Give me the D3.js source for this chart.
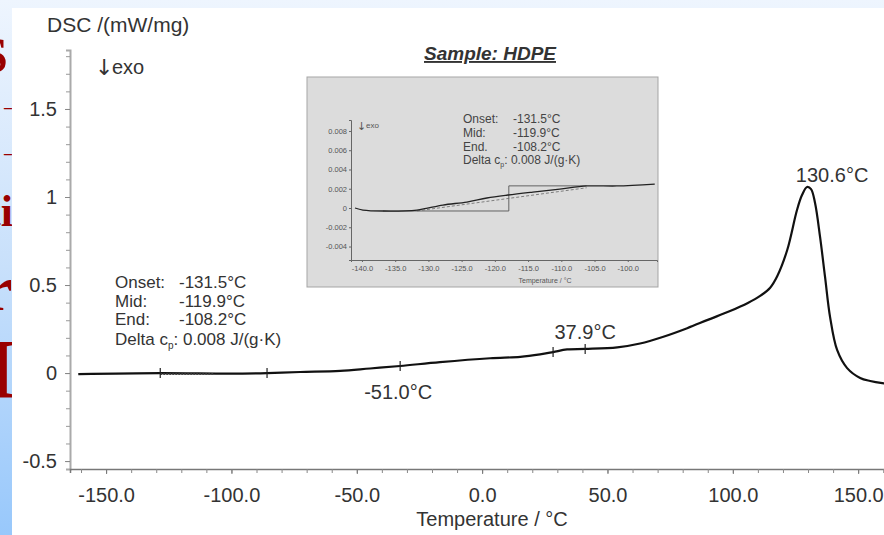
<!DOCTYPE html>
<html>
<head>
<meta charset="utf-8">
<script src="https://cdn.jsdelivr.net/npm/d3@7"></script>
<style>
body { margin: 0; }
svg { display: block; font-family: "Liberation Sans", Arial, sans-serif; }
</style>
</head>
<body>
<script>
let width = 884,
    height = 535;

// main DSC curve
let tempC = [-161.1, -128.4, -100.5, -85.8, -72.6, -56.6, -44.7, -32.7, -16.8, 3.2, 15.2, 23.1, 28.3, 33.9,
             41.1, 53.9, 63.0, 72.0, 81.8, 90.0, 98.9, 106.0, 110.9, 114.9, 117.7, 121.7, 125.6, 127.6, 129.6,
             131.2, 132.8, 134.8, 136.8, 138.8, 141.6, 145.6, 150.8, 154.8, 159.6, 162.0];
let dscValue = [-0.006, 0.0, -0.003, 0.0, 0.006, 0.012, 0.026, 0.040, 0.062, 0.084, 0.092, 0.106, 0.119, 0.134,
                0.137, 0.146, 0.168, 0.205, 0.255, 0.302, 0.352, 0.398, 0.438, 0.485, 0.550, 0.699, 0.926, 1.011, 1.057,
                1.045, 0.966, 0.773, 0.545, 0.318, 0.131, 0.028, -0.028, -0.045, -0.057, -0.060];
let markerTemps = [-128.4, -85.8, -32.7, 28.3, 41.1];
let peakTexts = ["-51.0°C", "37.9°C", "130.6°C"];
let peakLabelT = [-33.5, 41.1, 139.6];
let peakLabelV = [-0.148, 0.193, 1.085];
let xTicks = [-150, -100, -50, 0, 50, 100, 150];
let yTicks = [-0.5, 0, 0.5, 1, 1.5];
let stepNames = ["Onset:", "Mid:", "End:"];
let stepValues = ["-131.5°C", "-119.9°C", "-108.2°C"];

// inset: zoom on the glass step
let insetT = [-141.05, -139.85, -136.84, -131.73, -127.82, -124.21, -121.20, -118.05, -114.29, -110.23, -106.17, -101.65, -95.94];
let insetV = [0, -0.00021, -0.00031, -0.00021, 0.00031, 0.00062, 0.00104, 0.00135, 0.00166, 0.00197, 0.00229, 0.00229, 0.00249];
let insetXTicks = [-140, -135, -130, -125, -120, -115, -110, -105, -100];
let insetYTicks = [-0.004, -0.002, 0, 0.002, 0.004, 0.006, 0.008];

let svg = d3.select("body")
            .append("svg")
            .attr("width", width)
            .attr("height", height);

// slide background behind the chart
let grad = svg.append("defs").append("linearGradient")
              .attr("id", "bg").attr("x1", 0).attr("y1", 0).attr("x2", 0).attr("y2", 1);
grad.append("stop").attr("offset", 0).attr("stop-color", "#eef5fe");
grad.append("stop").attr("offset", 0.5).attr("stop-color", "#c8e0fb");
grad.append("stop").attr("offset", 1).attr("stop-color", "#98c8fb");
svg.append("rect").attr("width", width).attr("height", height).attr("fill", "url(#bg)");

let slideText = [{t: "S", x: -20, y: 72, s: 50}, {t: "–", x: 4, y: 113, s: 16}, {t: "–", x: 4, y: 159, s: 16},
                 {t: "ti", x: -14, y: 226, s: 44}, {t: "r", x: -16, y: 310, s: 64}, {t: "I", x: -16, y: 398, s: 84}];
svg.selectAll(".slide").data(slideText).enter().append("text")
   .attr("x", d => d.x).attr("y", d => d.y)
   .style("font-family", "'Liberation Serif', serif").style("font-size", d => d.s + "px")
   .style("font-weight", "bold").attr("fill", "#990000").text(d => d.t);

svg.append("rect").attr("x", 12).attr("y", 8).attr("width", width - 12).attr("height", height - 8).attr("fill", "#fff");

// scales
let x = d3.scaleLinear().domain([-164.4, 162.3]).range([70, 889]);
let y = d3.scaleLinear().domain([-0.545, 1.835]).range([469, 50]);

// axes
let yMinor = d3.range(-5, 19).map(i => i / 10);
svg.append("g").attr("transform", "translate(70,0)")
   .call(d3.axisLeft(y).tickValues(yMinor).tickSize(4).tickFormat(""))
   .call(g => g.select(".domain").attr("stroke", "#aaa").attr("stroke-width", 2))
   .call(g => g.selectAll(".tick line").attr("stroke", "#999"));
svg.append("g").attr("transform", "translate(70,0)")
   .call(d3.axisLeft(y).tickValues(yTicks).tickSize(5).tickPadding(8).tickFormat(d => String(d)))
   .call(g => g.select(".domain").remove())
   .call(g => g.selectAll(".tick line").attr("stroke", "#888"))
   .call(g => g.selectAll("text").attr("fill", "#333").style("font-size", "20px").style("font-family", null));

let xMinor = d3.range(-160, 170, 10);
svg.append("g").attr("transform", "translate(0,469)")
   .call(d3.axisBottom(x).tickValues(xMinor).tickSize(4).tickFormat(""))
   .call(g => g.select(".domain").attr("stroke", "#777").attr("stroke-width", 1.5))
   .call(g => g.selectAll(".tick line").attr("stroke", "#888"));
svg.append("g").attr("transform", "translate(0,469)")
   .call(d3.axisBottom(x).tickValues(xTicks).tickSize(5).tickPadding(14).tickFormat(d => d.toFixed(1)))
   .call(g => g.select(".domain").remove())
   .call(g => g.selectAll(".tick line").attr("stroke", "#777"))
   .call(g => g.selectAll("text").attr("fill", "#333").style("font-size", "20px").style("font-family", null));

svg.append("text").attr("x", 492).attr("y", 526).attr("text-anchor", "middle")
   .attr("fill", "#333").style("font-size", "20px").text("Temperature / °C");
svg.append("text").attr("x", 47).attr("y", 32)
   .attr("fill", "#333").style("font-size", "21px").text("DSC /(mW/mg)");
svg.append("text").attr("x", 95).attr("y", 75)
   .attr("fill", "#333").style("font-size", "22px").style("font-family", "'DejaVu Sans', sans-serif").text("↓");
svg.append("text").attr("x", 112).attr("y", 74)
   .attr("fill", "#333").style("font-size", "20px").text("exo");

// curve
let points = tempC.map((t, i) => [t, dscValue[i]]);
let line = d3.line().x(d => x(d[0])).y(d => y(d[1])).curve(d3.curveCatmullRom.alpha(0.5));
svg.append("path").datum(points).attr("d", line)
   .attr("fill", "none").attr("stroke", "#111").attr("stroke-width", 2.2);

// tangent remnant of the step evaluation
svg.append("path").datum([[-128.4, -0.006], [-107, -0.006]]).attr("d", d3.line().x(d => x(d[0])).y(d => y(d[1])))
   .attr("stroke", "#444").attr("stroke-width", 1.6).attr("stroke-dasharray", "2,1");

// evaluation markers
let curveAt = d3.scaleLinear().domain(tempC).range(dscValue);
svg.selectAll(".marker").data(markerTemps).enter().append("line")
   .attr("x1", d => x(d)).attr("x2", d => x(d))
   .attr("y1", d => y(curveAt(d)) - 5).attr("y2", d => y(curveAt(d)) + 5)
   .attr("stroke", "#222").attr("stroke-width", 1.2);

svg.selectAll(".peak").data(peakTexts).enter().append("text")
   .attr("x", (d, i) => x(peakLabelT[i])).attr("y", (d, i) => y(peakLabelV[i]))
   .attr("text-anchor", "middle").attr("fill", "#333").style("font-size", "20px").text(d => d);

// evaluation text
let info = svg.append("g").attr("fill", "#333").style("font-size", "17px");
stepNames.forEach((n, i) => {
  info.append("text").attr("x", 115).attr("y", 288 + i * 18.5).text(n);
  info.append("text").attr("x", 179).attr("y", 288 + i * 18.5).text(stepValues[i]);
});
let dl = info.append("text").attr("x", 115).attr("y", 345);
dl.append("tspan").text("Delta c");
dl.append("tspan").attr("dy", 4).style("font-size", "10px").text("p");
dl.append("tspan").attr("dy", -4).text(": 0.008 J/(g·K)");

// inset
svg.append("text").attr("x", 490).attr("y", 60).attr("text-anchor", "middle")
   .attr("fill", "#333").style("font-size", "19px").style("font-weight", "bold").style("font-style", "italic")
   .style("text-decoration", "underline").text("Sample: HDPE");

svg.append("rect").attr("x", 307).attr("y", 77).attr("width", 351).attr("height", 210)
   .attr("fill", "#dcdcdc").attr("stroke", "#a5a5a5").attr("stroke-width", 1);

let ix = d3.scaleLinear().domain([-141.65, -95.6]).range([351, 657]);
let iy = d3.scaleLinear().domain([-0.0054, 0.00914]).range([260, 120]);

svg.append("g").attr("transform", "translate(351,0)")
   .call(d3.axisLeft(iy).tickValues(insetYTicks).tickSize(2).tickPadding(2).tickFormat(d => String(+d.toFixed(3))))
   .call(g => g.select(".domain").attr("stroke", "#666"))
   .call(g => g.selectAll(".tick line").attr("stroke", "#666"))
   .call(g => g.selectAll("text").attr("fill", "#555").style("font-size", "7.5px").style("font-family", null));
svg.append("g").attr("transform", "translate(0,260)")
   .call(d3.axisBottom(ix).tickValues(insetXTicks).tickSize(2).tickPadding(4).tickFormat(d => d.toFixed(1)))
   .call(g => g.select(".domain").attr("stroke", "#666"))
   .call(g => g.selectAll(".tick line").attr("stroke", "#666"))
   .call(g => g.selectAll("text").attr("fill", "#555").style("font-size", "7.5px").style("font-family", null));
svg.append("text").attr("x", 545).attr("y", 283).attr("text-anchor", "middle")
   .attr("fill", "#555").style("font-size", "7px").text("Temperature / °C");
svg.append("text").attr("x", 357).attr("y", 130)
   .attr("fill", "#555").style("font-size", "11px").style("font-family", "'DejaVu Sans', sans-serif").text("↓");
svg.append("text").attr("x", 366).attr("y", 128)
   .attr("fill", "#555").style("font-size", "8px").text("exo");

let iline = d3.line().x(d => ix(d[0])).y(d => iy(d[1]));
// evaluation construction lines
let stepT = -117.9;
svg.append("path").datum([[-136.84, -0.00031], [stepT, -0.00031], [stepT, 0.0023], [-106.2, 0.0023]])
   .attr("d", iline).attr("fill", "none").attr("stroke", "#555").attr("stroke-width", 0.9);
svg.append("path").datum([[-131.7, -0.0003], [-106.2, 0.0021]])
   .attr("d", iline).attr("fill", "none").attr("stroke", "#666").attr("stroke-width", 0.8).attr("stroke-dasharray", "3,2");
svg.append("path").datum(insetT.map((t, i) => [t, insetV[i]]))
   .attr("d", iline.curve(d3.curveCatmullRom.alpha(0.5))).attr("fill", "none").attr("stroke", "#222").attr("stroke-width", 1.3);

let itext = svg.append("g").attr("fill", "#444").style("font-size", "12px");
stepNames.forEach((n, i) => {
  itext.append("text").attr("x", 463).attr("y", 123 + i * 14).text(i == 2 ? "End." : n);
  itext.append("text").attr("x", 513).attr("y", 123 + i * 14).text(stepValues[i]);
});
let idl = itext.append("text").attr("x", 463).attr("y", 164);
idl.append("tspan").text("Delta c");
idl.append("tspan").attr("dy", 3).style("font-size", "7px").text("p");
idl.append("tspan").attr("dy", -3).text(": 0.008 J/(g·K)");
</script>
</body>
</html>
